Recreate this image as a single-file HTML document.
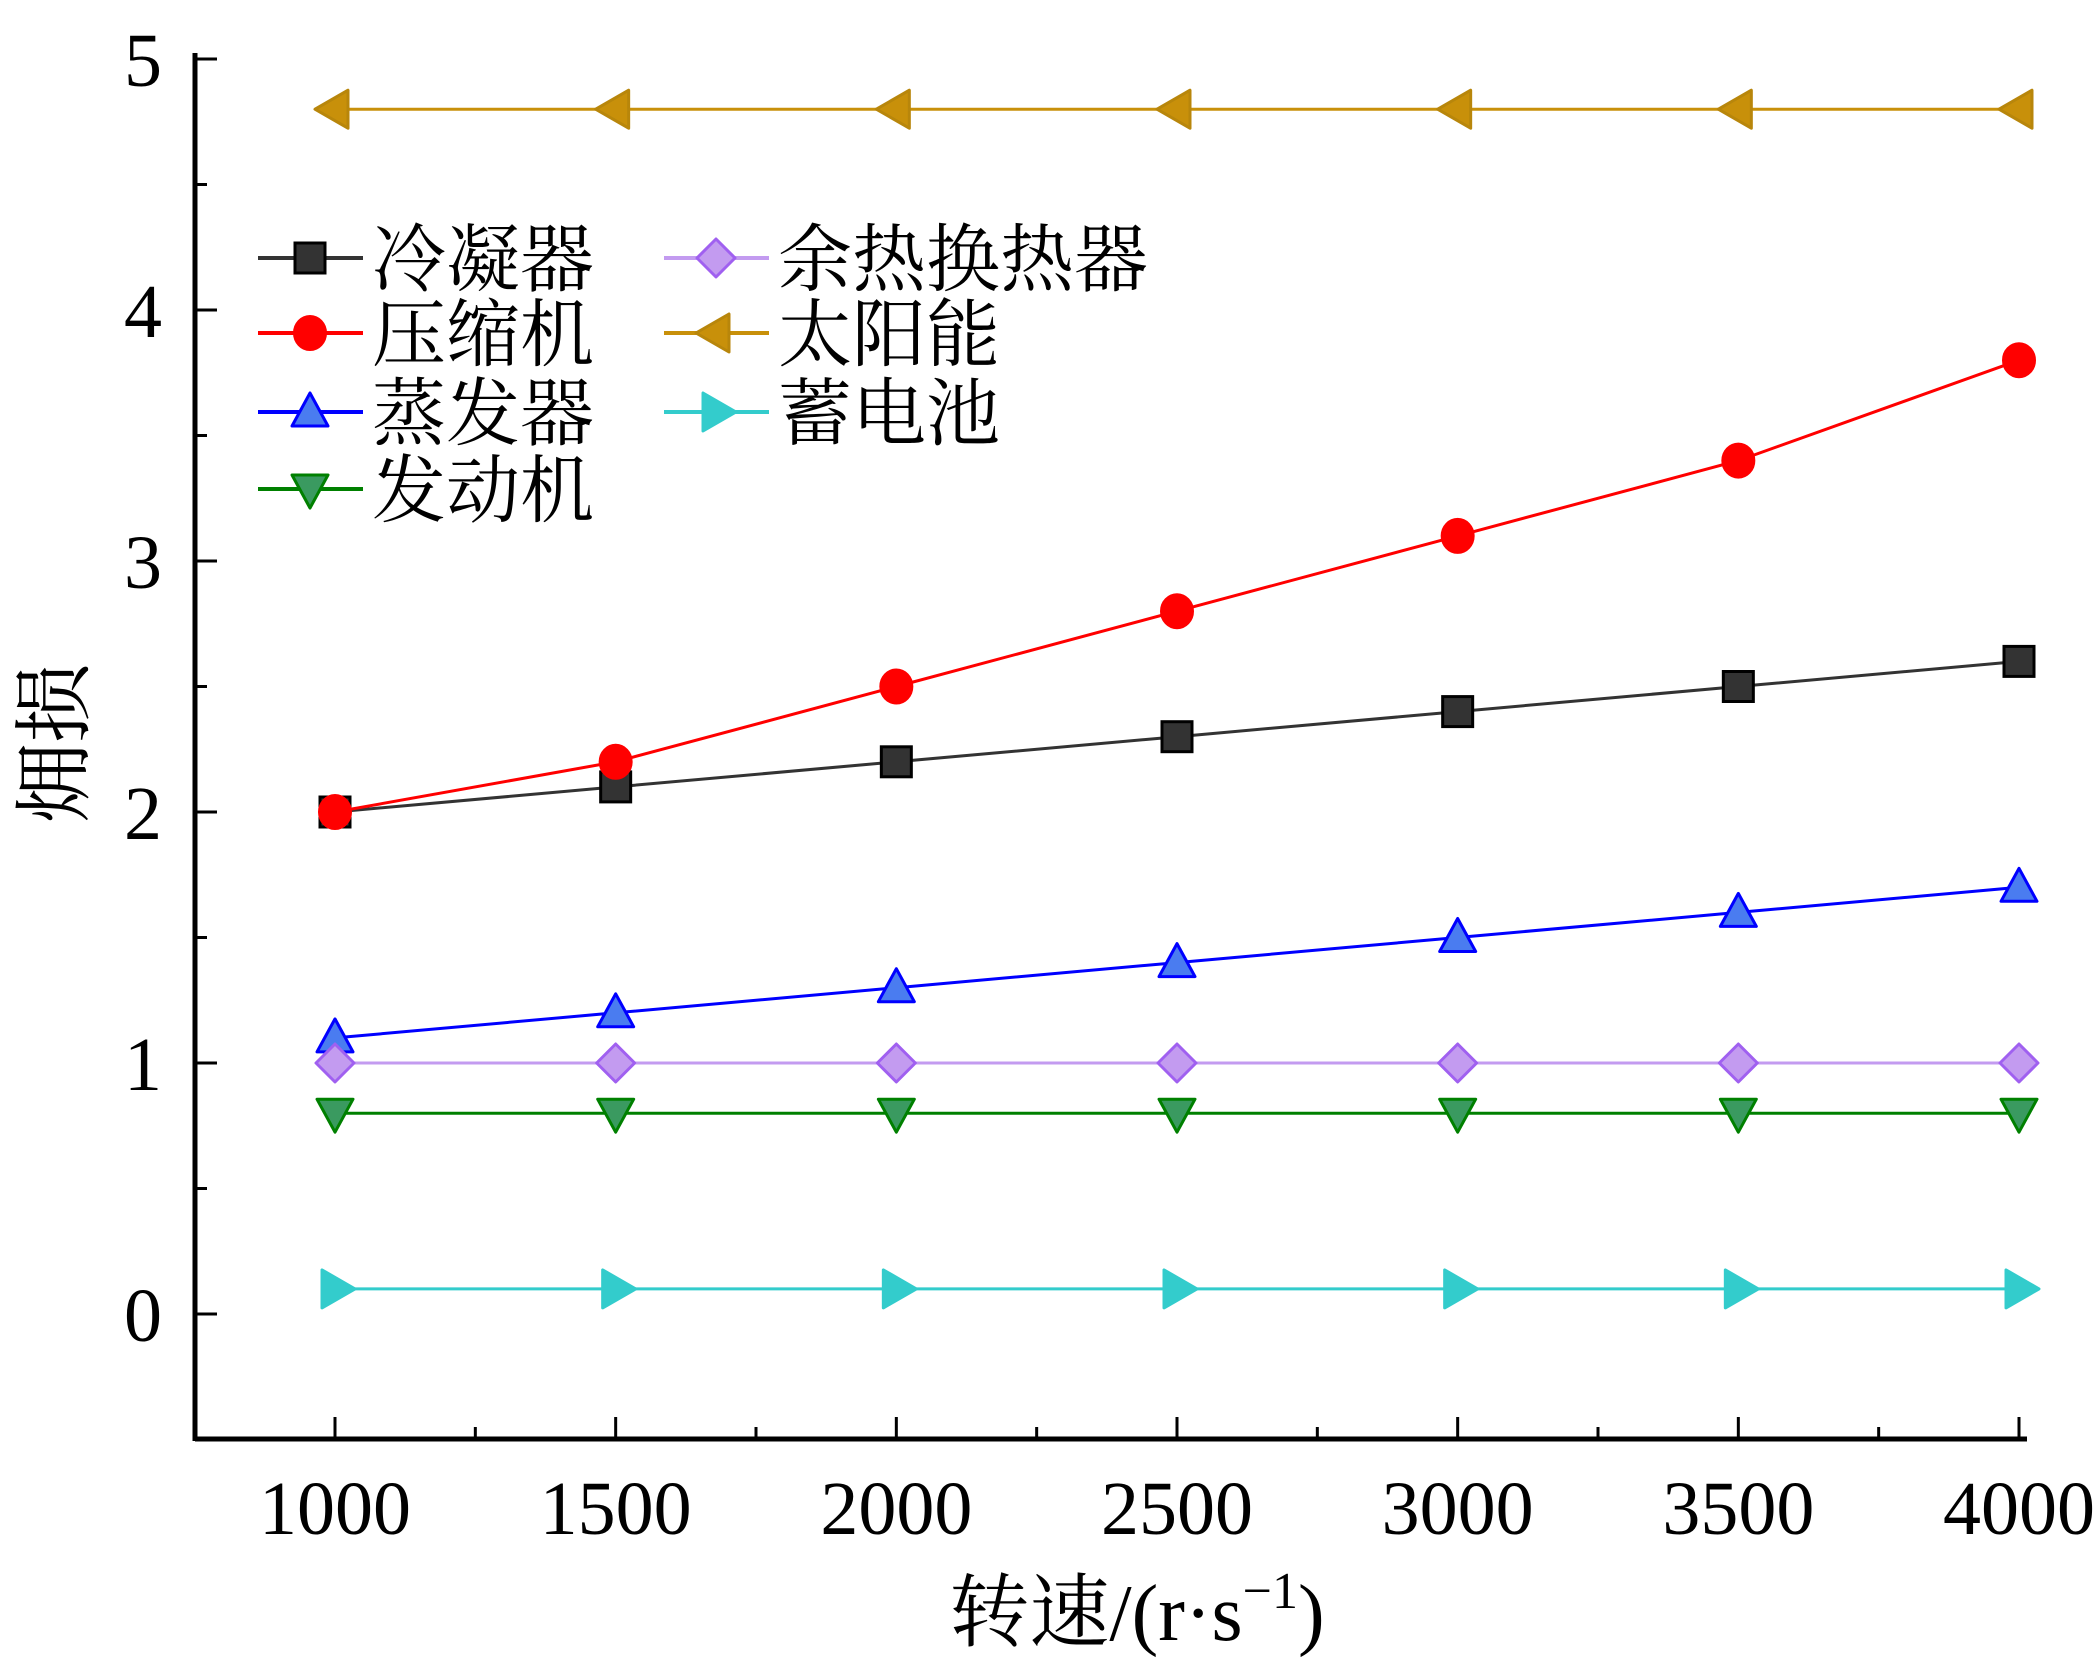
<!DOCTYPE html>
<html><head><meta charset="utf-8">
<style>
html,body{margin:0;padding:0;background:#fff;}
svg{display:block;}
text{font-family:"Liberation Serif","Noto Serif CJK SC",serif;fill:#000;}
</style></head>
<body>
<svg id="chart" width="2098" height="1661" viewBox="0 0 2098 1661" xmlns="http://www.w3.org/2000/svg">
<g id="axes"></g>
<g id="series"></g>
<g id="legend"></g>
<text x="1137" y="1640" font-size="80" text-anchor="middle">转速/(r·s<tspan font-size="52" dy="-32">−1</tspan><tspan dy="32">)</tspan></text>
<text transform="translate(82,743) rotate(-90)" font-size="80" text-anchor="middle">㶲损</text>
</svg>
<script>
const xCategories = [1000,1500,2000,2500,3000,3500,4000];
const xTickLabels = ["1000","1500","2000","2500","3000","3500","4000"];
const yTickValues = [0,1,2,3,4,5];
const yTickLabels = ["0","1","2","3","4","5"];
const seriesNames = ["冷凝器","压缩机","蒸发器","发动机","余热换热器","太阳能","蓄电池"];
const condenser = [2.0,2.1,2.2,2.3,2.4,2.5,2.6];
const compressor = [2.0,2.2,2.5,2.8,3.1,3.4,3.8];
const evaporator = [1.1,1.2,1.3,1.4,1.5,1.6,1.7];
const engine = [0.8,0.8,0.8,0.8,0.8,0.8,0.8];
const wasteHeatExchanger = [1.0,1.0,1.0,1.0,1.0,1.0,1.0];
const solar = [4.8,4.8,4.8,4.8,4.8,4.8,4.8];
const battery = [0.1,0.1,0.1,0.1,0.1,0.1,0.1];

const NS="http://www.w3.org/2000/svg";
function X(v){return 335+(v-1000)*(2019-335)/3000;}
function Y(v){return 1314-(v)*(1314-59)/5;}
function mk(tag,attrs,parent){const e=document.createElementNS(NS,tag);for(const k in attrs)e.setAttribute(k,attrs[k]);parent.appendChild(e);return e;}

const axes=document.getElementById('axes');
const L=195,B=1439,R=2027,T=53;
let e;
e=mk('line',{x1:L,y1:B,x2:R,y2:B,stroke:'#000','stroke-width':5},axes);


e=mk('line',{x1:L,y1:T,x2:L,y2:B+2,stroke:'#000','stroke-width':5},axes);


for(let v=750;v<=4000;v+=250){
  const major=(v%500===0)&&v>=1000;
  e=mk('line',{x1:X(v),y1:B,x2:X(v),y2:B-(major?22:12),stroke:'#000','stroke-width':3},axes);
  
  
}
xCategories.forEach((c,i)=>{
  e=mk('text',{x:X(c),y:1534,'font-size':76,'text-anchor':'middle'},axes);
  e.textContent=xTickLabels[i];
  
  
});
for(let v=-0.5;v<=5;v+=0.5){
  const major=Math.abs(v-Math.round(v))<1e-6;
  e=mk('line',{x1:L,y1:Y(v),x2:L+(major?22:12),y2:Y(v),stroke:'#000','stroke-width':3},axes);
  
  
}
yTickValues.forEach((v,i)=>{
  e=mk('text',{x:162,y:Y(v)+27,'font-size':76,'text-anchor':'end'},axes);
  e.textContent=yTickLabels[i];
  
  
});

const styles=[
 {data:condenser,line:'#333',fill:'#333',stroke:'#000',m:'square',key:'condenser'},
 {data:compressor,line:'#f00',fill:'#f00',stroke:'#f00',m:'circle',key:'compressor'},
 {data:evaporator,line:'#00f',fill:'#4a7cf0',stroke:'#00f',m:'up',key:'evaporator'},
 {data:engine,line:'#008000',fill:'#3a9a60',stroke:'#008000',m:'down',key:'engine'},
 {data:wasteHeatExchanger,line:'#c39bf0',fill:'#c39bf0',stroke:'#a060f0',m:'diamond',key:'waste-heat-exchanger'},
 {data:solar,line:'#c8900a',fill:'#c8900a',stroke:'#b8860b',m:'left',key:'solar'},
 {data:battery,line:'#33cccc',fill:'#33cccc',stroke:'#33cccc',m:'right',key:'battery'}
];
function marker(type,cx,cy,p,par){
  let el;
  const f=p.fill,st=p.stroke;
  if(type==='square') el=mk('rect',{x:cx-15,y:cy-15,width:30,height:30,fill:f,stroke:st,'stroke-width':3},par);
  else if(type==='circle') el=mk('ellipse',{cx:cx,cy:cy,rx:16,ry:17,fill:f,stroke:st,'stroke-width':2},par);
  else {
    let pts;
    if(type==='up') pts=[[0,-19],[18,14],[-18,14]];
    else if(type==='down') pts=[[0,19],[18,-14],[-18,-14]];
    else if(type==='left') pts=[[-20,0],[13,-19],[13,19]];
    else if(type==='right') pts=[[20,0],[-13,-19],[-13,19]];
    else pts=[[0,-19],[19,0],[0,19],[-19,0]];
    el=mk('polygon',{points:pts.map(q=>(cx+q[0])+','+(cy+q[1])).join(' '),fill:f,stroke:st,'stroke-width':3,'stroke-linejoin':'round'},par);
  }
  return el;
}
const sg=document.getElementById('series');
styles.forEach(p=>{
  const g=mk('g',{},sg);
  
  
  const pl=mk('polyline',{points:p.data.map((v,i)=>X(xCategories[i])+','+Y(v)).join(' '),fill:'none',stroke:p.line,'stroke-width':3},g);
  
  
  p.data.forEach((v,i)=>{
    const m=marker(p.m,X(xCategories[i]),Y(v),p,g);
    
    
  });
});
const lg=document.getElementById('legend');
const legendPos=[[258,258],[258,333],[258,412],[258,489],[664,258],[664,333],[664,412]];
styles.forEach((p,i)=>{
  const [lx,ly]=legendPos[i];
  const g=mk('g',{},lg);
  
  
  mk('line',{x1:lx,y1:ly,x2:lx+105,y2:ly,stroke:p.line,'stroke-width':4},g);
  marker(p.m,lx+52,ly,p,g);
  const t=mk('text',{x:lx+114,y:ly+27,'font-size':74},g);
  t.textContent=seriesNames[i];
});
</script>
</body></html>
